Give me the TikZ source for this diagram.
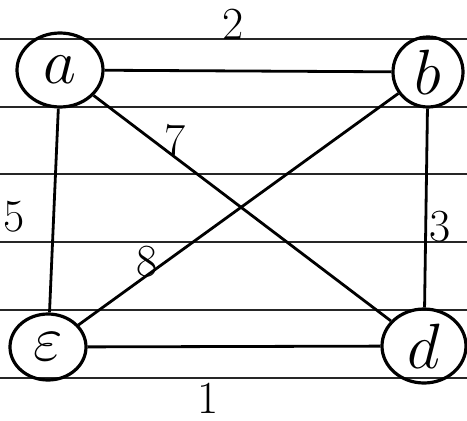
\RequirePackage{fix-cm}
\documentclass[tikz,border=0pt]{standalone}
\usetikzlibrary{shapes.geometric}
\begin{document}
\begin{tikzpicture}[x=1pt,y=-1pt,
  vtx/.style={ellipse,draw,line width=3.2pt,inner sep=0pt,font=\fontsize{64}{66}\selectfont},
  edge/.style={line width=2.8pt},
  rule/.style={line width=2pt,black!85},
  wlabel/.style={inner sep=0pt,font=\fontsize{46}{48}\selectfont}]
\useasboundingbox (0,0) rectangle (467,421);
\fill[white] (0,0) rectangle (467,421);
% ruled paper lines
\foreach \yy in {39,107,174,242,310,378}
  \draw[rule] (0,\yy) -- (467,\yy);
% vertices
\node[vtx,minimum width=86pt,minimum height=74pt] (a) at (60,70) {$a$};
\node[vtx,minimum width=70pt,minimum height=70pt] (b) at (428,72) {$b$};
\node[vtx,minimum width=76pt,minimum height=66pt] (c) at (48,347) {$\varepsilon$};
\node[vtx,minimum width=84pt,minimum height=74pt] (d) at (424,346) {$d$};
% edges
\draw[edge] (a) -- (b);
\draw[edge] (c) -- (d);
\draw[edge] (a) -- (c);
\draw[edge] (b) -- (d);
\draw[edge] (a) -- (d);
\draw[edge] (b) -- (c);
% weights
\node[wlabel] (w2) at (233,24) {2};
\node[wlabel] (w7) at (175,140) {7};
\node[wlabel] (w5) at (14,217) {5};
\node[wlabel] (w8) at (147,262) {8};
\node[wlabel] (w3) at (440,227) {3};
\node[wlabel] (w1) at (208,398) {1};
\end{tikzpicture}
\end{document}
